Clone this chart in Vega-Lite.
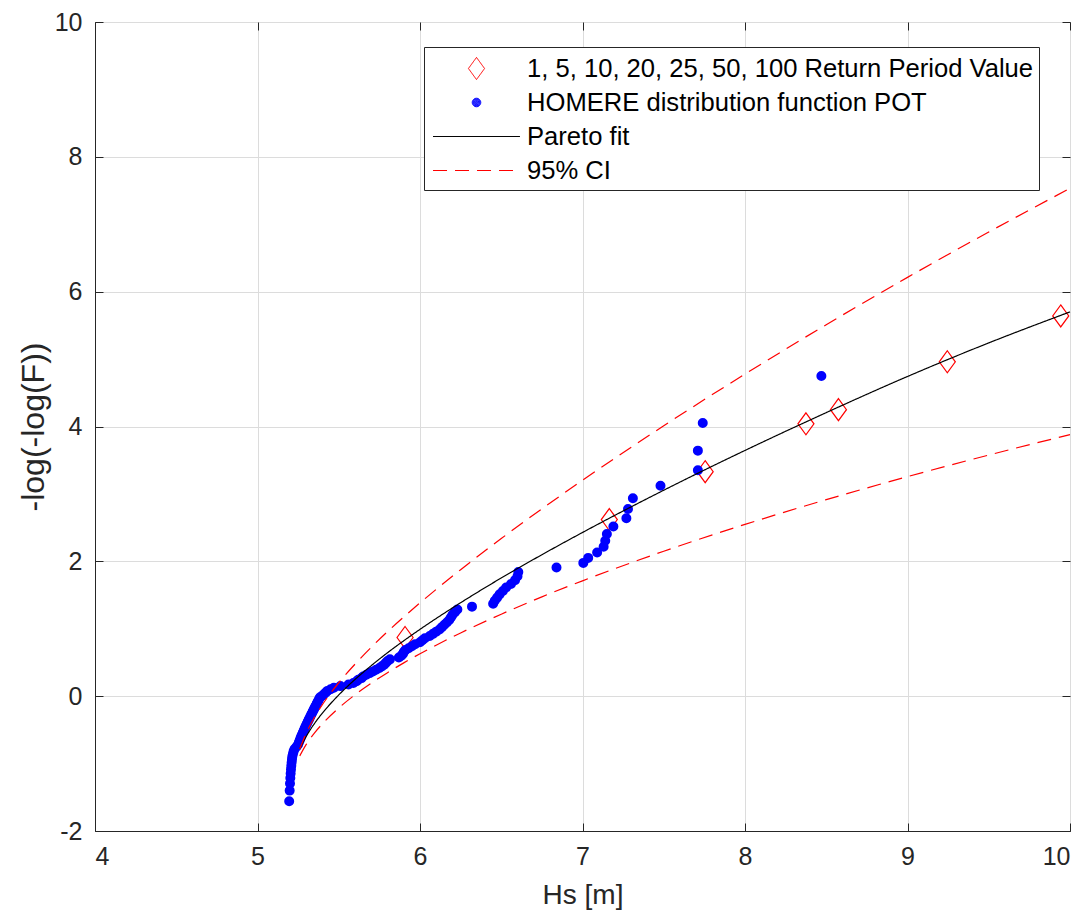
{
 "$schema": "https://vega.github.io/schema/vega-lite/v6.json",
 "autosize": {"type": "none"},
 "width": 975,
 "height": 809,
 "padding": {"left": 95, "top": 22, "right": 19, "bottom": 91},
 "background": "white",
 "config": {
  "font": "Liberation Sans, Arial, sans-serif",
  "view": {"stroke": "#262626", "strokeWidth": 1},
  "axis": {"gridColor": "#dcdcdc", "gridWidth": 1, "domainColor": "#262626", "tickColor": "#262626", "labelColor": "#262626", "titleColor": "#262626", "labelFontSize": 25, "titleFontSize": 28, "titleFontWeight": "normal", "tickSize": -8, "labelPadding": 21},
  "legend": {
   "orient": "none", "legendX": 329, "legendY": 25, "title": null,
   "fillColor": "white", "strokeColor": "#262626", "padding": 5,
   "symbolSize": 1000, "symbolStrokeWidth": 1, "symbolOffset": 31, "symbolFillColor": "transparent", "symbolOpacity": 1,
   "labelFontSize": 25.6, "labelColor": "#000000", "labelOffset": 34, "labelLimit": 0, "rowPadding": 3
  }
 },
 "resolve": {"axis": {"x": "independent", "y": "independent"}},
 "datasets": {
  "rp": [{"s":"rp","hs":5.908,"y":0.87},{"s":"rp","hs":7.165,"y":2.62},{"s":"rp","hs":7.755,"y":3.33},{"s":"rp","hs":8.375,"y":4.04},{"s":"rp","hs":8.575,"y":4.25},{"s":"rp","hs":9.245,"y":4.96},{"s":"rp","hs":9.943,"y":5.64}],
  "pts": [
   {"s":"pot","hs":5.195,"y":-1.559},{"s":"pot","hs":5.198,"y":-1.401},{"s":"pot","hs":5.200,"y":-1.296},{"s":"pot","hs":5.202,"y":-1.214},{"s":"pot","hs":5.204,"y":-1.146},{"s":"pot","hs":5.206,"y":-1.086},{"s":"pot","hs":5.208,"y":-1.032},{"s":"pot","hs":5.210,"y":-0.984},{"s":"pot","hs":5.212,"y":-0.939},{"s":"pot","hs":5.214,"y":-0.897},
   {"s":"pot","hs":5.218,"y":-0.857},{"s":"pot","hs":5.222,"y":-0.819},{"s":"pot","hs":5.228,"y":-0.783},{"s":"pot","hs":5.240,"y":-0.749},{"s":"pot","hs":5.250,"y":-0.716},{"s":"pot","hs":5.255,"y":-0.684},{"s":"pot","hs":5.260,"y":-0.653},{"s":"pot","hs":5.265,"y":-0.622},{"s":"pot","hs":5.270,"y":-0.593},{"s":"pot","hs":5.275,"y":-0.564},
   {"s":"pot","hs":5.280,"y":-0.536},{"s":"pot","hs":5.285,"y":-0.508},{"s":"pot","hs":5.290,"y":-0.481},{"s":"pot","hs":5.295,"y":-0.455},{"s":"pot","hs":5.300,"y":-0.428},{"s":"pot","hs":5.305,"y":-0.403},{"s":"pot","hs":5.310,"y":-0.377},{"s":"pot","hs":5.315,"y":-0.352},{"s":"pot","hs":5.320,"y":-0.327},{"s":"pot","hs":5.325,"y":-0.302},
   {"s":"pot","hs":5.330,"y":-0.277},{"s":"pot","hs":5.335,"y":-0.253},{"s":"pot","hs":5.340,"y":-0.229},{"s":"pot","hs":5.345,"y":-0.205},{"s":"pot","hs":5.350,"y":-0.181},{"s":"pot","hs":5.355,"y":-0.157},{"s":"pot","hs":5.360,"y":-0.134},{"s":"pot","hs":5.365,"y":-0.110},{"s":"pot","hs":5.370,"y":-0.086},{"s":"pot","hs":5.375,"y":-0.063},
   {"s":"pot","hs":5.380,"y":-0.039},{"s":"pot","hs":5.385,"y":-0.016},{"s":"pot","hs":5.400,"y":0.008},{"s":"pot","hs":5.410,"y":0.031},{"s":"pot","hs":5.420,"y":0.055},{"s":"pot","hs":5.430,"y":0.078},{"s":"pot","hs":5.450,"y":0.102},{"s":"pot","hs":5.470,"y":0.125},{"s":"pot","hs":5.510,"y":0.149},{"s":"pot","hs":5.560,"y":0.173},
   {"s":"pot","hs":5.590,"y":0.196},{"s":"pot","hs":5.610,"y":0.220},{"s":"pot","hs":5.620,"y":0.244},{"s":"pot","hs":5.640,"y":0.268},{"s":"pot","hs":5.650,"y":0.293},{"s":"pot","hs":5.670,"y":0.317},{"s":"pot","hs":5.690,"y":0.342},{"s":"pot","hs":5.710,"y":0.367},{"s":"pot","hs":5.730,"y":0.392},{"s":"pot","hs":5.750,"y":0.417},
   {"s":"pot","hs":5.765,"y":0.442},{"s":"pot","hs":5.780,"y":0.468},{"s":"pot","hs":5.790,"y":0.494},{"s":"pot","hs":5.800,"y":0.520},{"s":"pot","hs":5.815,"y":0.546},{"s":"pot","hs":5.870,"y":0.573},{"s":"pot","hs":5.885,"y":0.600},{"s":"pot","hs":5.895,"y":0.627},{"s":"pot","hs":5.900,"y":0.655},{"s":"pot","hs":5.910,"y":0.683},
   {"s":"pot","hs":5.930,"y":0.711},{"s":"pot","hs":5.950,"y":0.740},{"s":"pot","hs":5.970,"y":0.769},{"s":"pot","hs":6.000,"y":0.799},{"s":"pot","hs":6.015,"y":0.830},{"s":"pot","hs":6.030,"y":0.860},{"s":"pot","hs":6.060,"y":0.892},{"s":"pot","hs":6.080,"y":0.924},{"s":"pot","hs":6.100,"y":0.957},{"s":"pot","hs":6.120,"y":0.990},
   {"s":"pot","hs":6.135,"y":1.024},{"s":"pot","hs":6.150,"y":1.059},{"s":"pot","hs":6.165,"y":1.094},{"s":"pot","hs":6.180,"y":1.131},{"s":"pot","hs":6.190,"y":1.168},{"s":"pot","hs":6.200,"y":1.206},{"s":"pot","hs":6.215,"y":1.246},{"s":"pot","hs":6.230,"y":1.286},{"s":"pot","hs":6.320,"y":1.328},{"s":"pot","hs":6.450,"y":1.371},
   {"s":"pot","hs":6.460,"y":1.416},{"s":"pot","hs":6.475,"y":1.462},{"s":"pot","hs":6.490,"y":1.510},{"s":"pot","hs":6.510,"y":1.559},{"s":"pot","hs":6.530,"y":1.611},{"s":"pot","hs":6.560,"y":1.665},{"s":"pot","hs":6.585,"y":1.721},{"s":"pot","hs":6.600,"y":1.780},{"s":"pot","hs":6.605,"y":1.842},{"s":"pot","hs":6.840,"y":1.908},
   {"s":"pot","hs":7.005,"y":1.977},{"s":"pot","hs":7.035,"y":2.051},{"s":"pot","hs":7.090,"y":2.130},{"s":"pot","hs":7.130,"y":2.215},{"s":"pot","hs":7.140,"y":2.306},{"s":"pot","hs":7.150,"y":2.406},{"s":"pot","hs":7.190,"y":2.516},{"s":"pot","hs":7.270,"y":2.639},{"s":"pot","hs":7.280,"y":2.777},{"s":"pot","hs":7.310,"y":2.936},
   {"s":"pot","hs":7.480,"y":3.122},{"s":"pot","hs":7.710,"y":3.350},{"s":"pot","hs":7.710,"y":3.642},{"s":"pot","hs":7.740,"y":4.052},{"s":"pot","hs":8.470,"y":4.749}
  ],
  "fit": [
   {"s":"fit","hs":5.26,"y":-0.783},{"s":"fit","hs":5.28,"y":-0.684},{"s":"fit","hs":5.32,"y":-0.516},{"s":"fit","hs":5.36,"y":-0.374},{"s":"fit","hs":5.42,"y":-0.192},{"s":"fit","hs":5.5,"y":0.018},{"s":"fit","hs":5.6,"y":0.248},{"s":"fit","hs":5.7,"y":0.453},{"s":"fit","hs":5.8,"y":0.644},{"s":"fit","hs":5.9,"y":0.822},{"s":"fit","hs":6.0,"y":0.991},{"s":"fit","hs":6.25,"y":1.386},{"s":"fit","hs":6.5,"y":1.753},{"s":"fit","hs":6.75,"y":2.098},{"s":"fit","hs":7.0,"y":2.428},{"s":"fit","hs":7.5,"y":3.055},{"s":"fit","hs":8.0,"y":3.645},{"s":"fit","hs":8.5,"y":4.206},{"s":"fit","hs":9.0,"y":4.742},{"s":"fit","hs":9.5,"y":5.24},{"s":"fit","hs":10.0,"y":5.70}
  ],
  "ci": [
   {"s":"ci","bound":"upper","hs":5.26,"y":-0.786},{"s":"ci","bound":"upper","hs":5.3,"y":-0.547},{"s":"ci","bound":"upper","hs":5.35,"y":-0.316},{"s":"ci","bound":"upper","hs":5.4,"y":-0.124},{"s":"ci","bound":"upper","hs":5.5,"y":0.199},{"s":"ci","bound":"upper","hs":5.6,"y":0.475},{"s":"ci","bound":"upper","hs":5.7,"y":0.725},{"s":"ci","bound":"upper","hs":5.8,"y":0.957},{"s":"ci","bound":"upper","hs":5.9,"y":1.175},{"s":"ci","bound":"upper","hs":6.0,"y":1.384},{"s":"ci","bound":"upper","hs":6.25,"y":1.876},{"s":"ci","bound":"upper","hs":6.5,"y":2.338},{"s":"ci","bound":"upper","hs":6.75,"y":2.779},{"s":"ci","bound":"upper","hs":7.0,"y":3.202},{"s":"ci","bound":"upper","hs":7.5,"y":4.011},{"s":"ci","bound":"upper","hs":8.0,"y":4.778},{"s":"ci","bound":"upper","hs":8.5,"y":5.510},{"s":"ci","bound":"upper","hs":9.0,"y":6.212},{"s":"ci","bound":"upper","hs":9.5,"y":6.885},{"s":"ci","bound":"upper","hs":10.0,"y":7.533},
   {"s":"ci","bound":"lower","hs":5.26,"y":-0.886},{"s":"ci","bound":"lower","hs":5.3,"y":-0.716},{"s":"ci","bound":"lower","hs":5.35,"y":-0.548},{"s":"ci","bound":"lower","hs":5.4,"y":-0.409},{"s":"ci","bound":"lower","hs":5.5,"y":-0.176},{"s":"ci","bound":"lower","hs":5.6,"y":0.020},{"s":"ci","bound":"lower","hs":5.7,"y":0.192},{"s":"ci","bound":"lower","hs":5.8,"y":0.349},{"s":"ci","bound":"lower","hs":5.9,"y":0.494},{"s":"ci","bound":"lower","hs":6.0,"y":0.629},{"s":"ci","bound":"lower","hs":6.25,"y":0.938},{"s":"ci","bound":"lower","hs":6.5,"y":1.216},{"s":"ci","bound":"lower","hs":6.75,"y":1.473},{"s":"ci","bound":"lower","hs":7.0,"y":1.711},{"s":"ci","bound":"lower","hs":7.5,"y":2.150},{"s":"ci","bound":"lower","hs":8.0,"y":2.548},{"s":"ci","bound":"lower","hs":8.5,"y":2.915},{"s":"ci","bound":"lower","hs":9.0,"y":3.256},{"s":"ci","bound":"lower","hs":9.5,"y":3.577},{"s":"ci","bound":"lower","hs":10.0,"y":3.879}
  ]
 },
 "layer": [
  {
   "data": {"name": "rp"},
   "mark": {"type": "point", "filled": false, "size": 990, "strokeWidth": 1.2, "opacity": 1},
   "encoding": {
    "x": {"field": "hs", "type": "quantitative", "scale": {"domain": [4, 10], "nice": false, "zero": false}, "axis": {"title": "Hs [m]", "values": [4,5,6,7,8,9,10], "grid": true, "titlePadding": 12}},
    "y": {"field": "y", "type": "quantitative", "scale": {"domain": [-2, 10], "nice": false, "zero": false}, "axis": {"title": "-log(-log(F))", "values": [-2,0,2,4,6,8,10], "grid": true, "titleFontSize": 32, "titlePadding": 4, "labelExpr": "'' + datum.value"}},
    "color": {"field": "s", "type": "nominal",
     "scale": {"domain": ["rp", "pot", "fit", "ci"], "range": ["#ff0000", "#0000ff", "#000000", "#ff0000"]},
     "legend": {"labelExpr": "datum.value == 'rp' ? '1, 5, 10, 20, 25, 50, 100 Return Period Value' : datum.value == 'pot' ? 'HOMERE distribution function POT' : datum.value == 'fit' ? 'Pareto fit' : '95% CI'"}},
    "shape": {"field": "s", "type": "nominal",
     "scale": {"domain": ["rp", "pot", "fit", "ci"], "range": [
      "M0,-0.7L0.51,0L0,0.7L-0.51,0Z",
      "M0.27,0A0.27,0.27 0 1,1 -0.27,0A0.27,0.27 0 1,1 0.27,0M0.23,0A0.23,0.23 0 1,1 -0.23,0A0.23,0.23 0 1,1 0.23,0M0.19,0A0.19,0.19 0 1,1 -0.19,0A0.19,0.19 0 1,1 0.19,0M0.15,0A0.15,0.15 0 1,1 -0.15,0A0.15,0.15 0 1,1 0.15,0M0.11,0A0.11,0.11 0 1,1 -0.11,0A0.11,0.11 0 1,1 0.11,0M0.07,0A0.07,0.07 0 1,1 -0.07,0A0.07,0.07 0 1,1 0.07,0M0.03,0A0.03,0.03 0 1,1 -0.03,0A0.03,0.03 0 1,1 0.03,0",
      "M-2.75,0L2.75,0",
      "M-2.75,0L2.75,0"]},
     "legend": {"labelExpr": "datum.value == 'rp' ? '1, 5, 10, 20, 25, 50, 100 Return Period Value' : datum.value == 'pot' ? 'HOMERE distribution function POT' : datum.value == 'fit' ? 'Pareto fit' : '95% CI'"}}
   }
  },
  {
   "data": {"name": "pts"},
   "mark": {"type": "point", "shape": "circle", "filled": false, "size": 25, "strokeWidth": 5, "opacity": 1},
   "encoding": {
    "x": {"field": "hs", "type": "quantitative", "axis": null},
    "y": {"field": "y", "type": "quantitative", "axis": null},
    "color": {"field": "s", "type": "nominal"}
   }
  },
  {
   "data": {"name": "fit"},
   "mark": {"type": "line", "strokeWidth": 1.2, "interpolate": "monotone"},
   "encoding": {
    "x": {"field": "hs", "type": "quantitative", "axis": null},
    "y": {"field": "y", "type": "quantitative", "axis": null},
    "color": {"field": "s", "type": "nominal"},
    "strokeDash": {"field": "s", "type": "nominal",
     "scale": {"domain": ["rp", "pot", "fit", "ci"], "range": [[1, 0], [1, 0], [1, 0], [14, 8]]},
     "legend": {"labelExpr": "datum.value == 'rp' ? '1, 5, 10, 20, 25, 50, 100 Return Period Value' : datum.value == 'pot' ? 'HOMERE distribution function POT' : datum.value == 'fit' ? 'Pareto fit' : '95% CI'"}}
   }
  },
  {
   "data": {"name": "ci"},
   "mark": {"type": "line", "strokeWidth": 1.2, "interpolate": "monotone"},
   "encoding": {
    "x": {"field": "hs", "type": "quantitative", "axis": {"orient": "top", "labels": false, "title": null, "grid": false, "domain": false, "values": [4,5,6,7,8,9,10]}},
    "y": {"field": "y", "type": "quantitative", "axis": {"orient": "right", "labels": false, "title": null, "grid": false, "domain": false, "values": [-2,0,2,4,6,8,10]}},
    "color": {"field": "s", "type": "nominal"},
    "strokeDash": {"field": "s", "type": "nominal"},
    "detail": {"field": "bound", "type": "nominal"}
   }
  }
 ]
}
